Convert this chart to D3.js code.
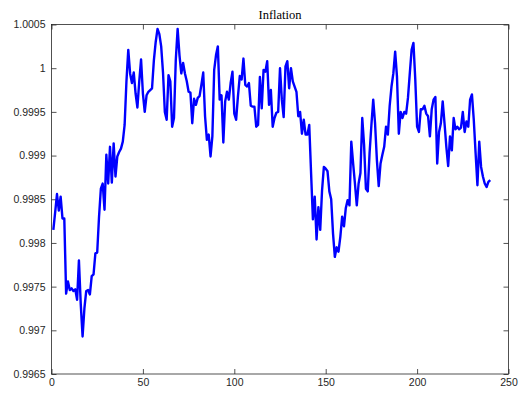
<!DOCTYPE html>
<html><head><meta charset="utf-8">
<script src="https://cdn.jsdelivr.net/npm/d3@7"></script>
<style>body{margin:0;background:#fff;}svg{display:block;}</style>
</head><body>
<svg id="c" width="520" height="396"></svg>
<script>
const title = "Inflation";
const xTicks = [0, 50, 100, 150, 200, 250];
const yTicks = [0.9965, 0.997, 0.9975, 0.998, 0.9985, 0.999, 0.9995, 1, 1.0005];
const yTickLabels = ["0.9965","0.997","0.9975","0.998","0.9985","0.999","0.9995","1","1.0005"];
const inflation = [
0.99815,0.99835,0.99856,0.99837,0.99853,0.99828,0.99828,0.99742,0.99756,0.99746,
0.99748,0.99745,0.99747,0.99735,0.99780,0.99730,0.99693,0.99725,0.99745,0.99746,
0.99741,0.99762,0.99764,0.99788,0.99789,0.99830,0.99862,0.99868,0.99838,0.99901,
0.99868,0.99910,0.99869,0.99914,0.99876,0.99899,0.99904,0.99908,0.99916,0.99935,
0.99985,1.00021,0.99994,0.99983,0.99995,0.99971,0.99955,0.99985,1.00010,0.99971,
0.99950,0.99969,0.99973,0.99975,0.99977,1.00009,1.00030,1.00045,1.00039,1.00025,
0.99995,0.99950,0.99941,0.99992,0.99985,0.99933,0.99943,1.00010,1.00045,1.00015,
0.99994,1.00006,0.99994,0.99985,0.99973,0.99972,0.99937,0.99965,0.99958,0.99966,
0.99968,0.99981,0.99995,0.99945,0.99918,0.99924,0.99899,0.99922,0.99998,1.00015,
1.00025,0.99964,0.99969,0.99915,0.99962,0.99973,0.99964,0.99983,0.99996,0.99948,
0.99941,0.99968,0.99991,0.99987,1.00011,0.99981,0.99979,0.99983,0.99957,0.99956,
0.99956,0.99933,0.99935,0.99990,0.99954,0.99998,0.99996,1.00008,0.99958,0.99975,
0.99933,0.99943,0.99949,0.99950,1.00000,0.99964,0.99944,1.00002,1.00008,0.99977,
1.00000,0.99985,0.99979,0.99973,0.99945,0.99950,0.99925,0.99941,0.99924,0.99924,
0.99935,0.99880,0.99827,0.99853,0.99804,0.99841,0.99815,0.99860,0.99887,0.99885,
0.99882,0.99859,0.99850,0.99811,0.99784,0.99795,0.99790,0.99807,0.99830,0.99819,
0.99840,0.99849,0.99843,0.99916,0.99891,0.99868,0.99843,0.99868,0.99880,0.99943,
0.99912,0.99862,0.99859,0.99903,0.99935,0.99964,0.99937,0.99895,0.99865,0.99891,
0.99901,0.99910,0.99933,0.99924,0.99957,0.99979,0.99994,1.00019,0.99990,0.99925,
0.99950,0.99943,0.99950,0.99948,0.99966,0.99994,1.00021,1.00029,0.99987,0.99933,
0.99927,0.99953,0.99953,0.99957,0.99948,0.99945,0.99922,0.99953,0.99964,0.99967,
0.99891,0.99927,0.99937,0.99962,0.99937,0.99910,0.99888,0.99922,0.99906,0.99943,
0.99930,0.99933,0.99930,0.99932,0.99950,0.99927,0.99939,0.99933,0.99964,0.99970,
0.99941,0.99903,0.99866,0.99916,0.99887,0.99876,0.99868,0.99864,0.99870,0.99872
];
const periods = inflation.map((_, i) => i + 1);

const svg = d3.select("#c");
const L = 51.5, R = 508.5, T = 24.5, B = 374;
const x = d3.scaleLinear().domain([0, 250]).range([L, R]);
const y = d3.scaleLinear().domain([0.9965, 1.0005]).range([B, T]);
const axisColor = "#262626";
const font = "'Liberation Sans', Arial, Helvetica, sans-serif";

function styleAxis(g) {
  g.select(".domain").remove();
  g.selectAll(".tick line").attr("stroke", axisColor).attr("stroke-width", 0.8);
  g.selectAll(".tick text").attr("fill", axisColor).style("font-family", font).style("font-size", "10.5px");
}

svg.append("g").attr("transform", `translate(0,${B})`)
  .call(d3.axisBottom(x).tickValues(xTicks).tickSize(-5).tickPadding(5).tickFormat(d3.format("d")))
  .call(styleAxis);
svg.append("g").attr("transform", `translate(0,${T})`)
  .call(d3.axisTop(x).tickValues(xTicks).tickSize(-5).tickFormat(""))
  .call(styleAxis);
svg.append("g").attr("transform", `translate(${L},0)`)
  .call(d3.axisLeft(y).tickValues(yTicks).tickSize(-5).tickPadding(6).tickFormat((d, i) => yTickLabels[i]))
  .call(styleAxis);
svg.append("g").attr("transform", `translate(${R},0)`)
  .call(d3.axisRight(y).tickValues(yTicks).tickSize(-5).tickFormat(""))
  .call(styleAxis);

svg.append("rect").attr("x", L).attr("y", T).attr("width", R - L).attr("height", B - T)
  .attr("fill", "none").attr("stroke", axisColor).attr("stroke-width", 0.8);

const line = d3.line().x((d, i) => x(periods[i])).y(d => y(d));
svg.append("path").datum(inflation).attr("d", line)
  .attr("fill", "none").attr("stroke", "#0000ff").attr("stroke-width", 2.4)
  .attr("stroke-linejoin", "round");

svg.append("text").attr("x", (L + R) / 2).attr("y", 19).attr("text-anchor", "middle")
  .style("font-family", "'Liberation Serif', 'DejaVu Serif', serif").style("font-size", "12.5px")
  .attr("fill", "#000").text(title);
</script>
</body></html>
